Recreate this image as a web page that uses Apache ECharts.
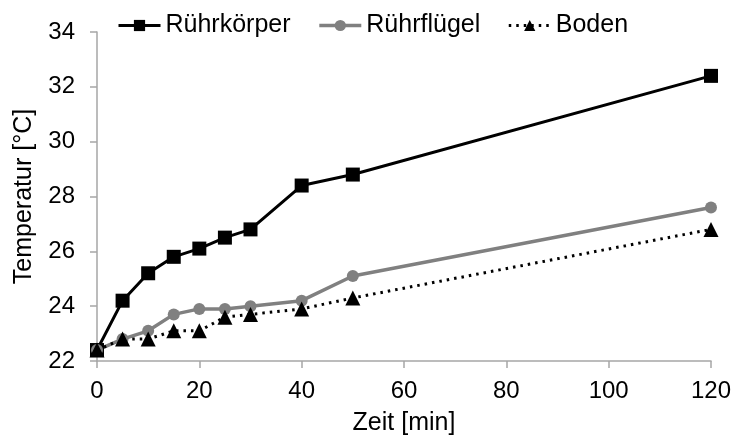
<!DOCTYPE html>
<html>
<head>
<meta charset="utf-8">
<script src="https://cdn.jsdelivr.net/npm/echarts@6/dist/echarts.min.js"></script>
<style>
  html, body { margin: 0; padding: 0; background: #fff; }
  #chart { width: 734px; height: 441px; }
</style>
</head>
<body>
<div id="chart"></div>
<script>
// Time points in minutes
const zeit = [0, 5, 10, 15, 20, 25, 30, 40, 50, 120];
// Temperatures in °C
const ruehrkoerper = [22.4, 24.2, 25.2, 25.8, 26.1, 26.5, 26.8, 28.4, 28.8, 32.4];
const ruehrfluegel = [22.4, 22.8, 23.1, 23.7, 23.9, 23.9, 24.0, 24.2, 25.1, 27.6];
const boden = [22.4, 22.8, 22.8, 23.1, 23.1, 23.6, 23.7, 23.9, 24.3, 26.8];
const seriesNames = ['Rührkörper', 'Rührflügel', 'Boden'];

const pairs = arr => zeit.map((x, i) => [x, arr[i]]);
const font = 'Liberation Sans, Arial, sans-serif';
const axisGray = '#a6a6a6';

const chart = echarts.init(document.getElementById('chart'));
chart.setOption({
  animation: false,
  grid: { left: 97, right: 23, top: 32, bottom: 78 },
  legend: {
    top: 8,
    left: 112,
    itemWidth: 42,
    itemHeight: 14,
    itemGap: 27,
    lineStyle: { width: 'inherit' },
    textStyle: { fontFamily: font, fontSize: 25, color: '#000' },
    data: seriesNames
  },
  xAxis: {
    type: 'value',
    min: 0, max: 120, interval: 20,
    name: 'Zeit [min]',
    nameLocation: 'middle',
    nameGap: 50,
    nameTextStyle: { fontFamily: font, fontSize: 25, color: '#000' },
    axisLine: { lineStyle: { color: axisGray, width: 1.5 } },
    axisTick: { show: true, length: 7, lineStyle: { color: axisGray, width: 1.5 } },
    axisLabel: { fontFamily: font, fontSize: 24, color: '#000', margin: 18 },
    splitLine: { show: false }
  },
  yAxis: {
    type: 'value',
    min: 22, max: 34, interval: 2,
    name: 'Temperatur [°C]',
    nameLocation: 'middle',
    nameGap: 60,
    nameTextStyle: { fontFamily: font, fontSize: 25, color: '#000' },
    axisLine: { show: true, lineStyle: { color: axisGray, width: 1.5 } },
    axisTick: { show: true, length: 7, lineStyle: { color: axisGray, width: 1.5 } },
    axisLabel: { fontFamily: font, fontSize: 24, color: '#000', margin: 22 },
    splitLine: { show: false }
  },
  series: [
    {
      name: seriesNames[0], type: 'line', data: pairs(ruehrkoerper),
      symbol: 'rect', symbolSize: 14,
      itemStyle: { color: '#000' },
      lineStyle: { color: '#000', width: 3 }
    },
    {
      name: seriesNames[1], type: 'line', data: pairs(ruehrfluegel),
      symbol: 'circle', symbolSize: 12,
      itemStyle: { color: '#808080' },
      lineStyle: { color: '#808080', width: 3.5 }
    },
    {
      name: seriesNames[2], type: 'line', data: pairs(boden),
      symbol: 'triangle', symbolSize: 15,
      itemStyle: { color: '#000' },
      lineStyle: { color: '#000', width: 3, type: [2.5, 5] }
    }
  ]
});
</script>
</body>
</html>
